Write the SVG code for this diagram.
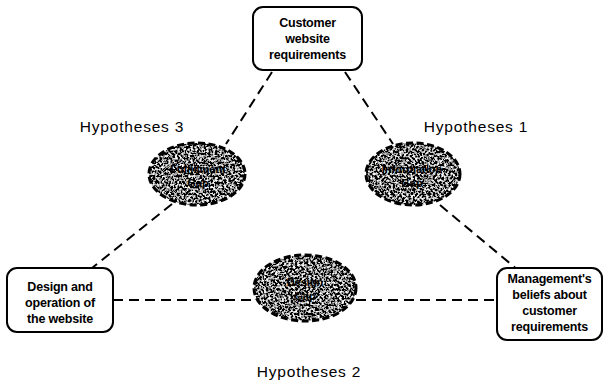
<svg xmlns="http://www.w3.org/2000/svg" width="607" height="382" viewBox="0 0 607 382">
<style>
.box{fill:#fff;stroke:#000;stroke-width:2}
.bt{font-family:"Liberation Sans",Arial,sans-serif;font-weight:bold;font-size:12.5px;fill:#000;text-anchor:middle;letter-spacing:-0.2px}
.fill{fill:#000}
.rim{fill:none;stroke:#000;stroke-width:3;stroke-dasharray:7 3.5}
.gt{font-family:"Liberation Sans",Arial,sans-serif;font-weight:bold;font-size:11px;fill:#000;text-anchor:middle}
.hl{font-family:"Liberation Sans",Arial,sans-serif;font-size:15.5px;fill:#000;text-anchor:middle;letter-spacing:0.8px}
.con{stroke:#000;stroke-width:2;stroke-dasharray:10 6;fill:none}
</style>
<defs>
<filter id="noise" x="0" y="0" width="100%" height="100%">
<feTurbulence type="fractalNoise" baseFrequency="0.45" numOctaves="3" seed="7" result="t"/>
<feColorMatrix in="t" type="matrix" values="3.6 0 0 0 -1.6  3.6 0 0 0 -1.6  3.6 0 0 0 -1.6  0 0 0 0 1" result="n"/>
<feComposite in="n" in2="SourceAlpha" operator="in"/>
</filter>
</defs>
<rect width="607" height="382" fill="#fff"/>
<g id="connectors">
<line class="con" x1="272" y1="72" x2="226" y2="144"/>
<line class="con" x1="172" y1="204" x2="92" y2="268"/>
<line class="con" x1="345" y1="72" x2="393" y2="144"/>
<line class="con" x1="440" y1="205" x2="518" y2="270"/>
<line class="con" x1="113" y1="300" x2="254" y2="300"/>
<line class="con" x1="356" y1="300" x2="497" y2="300"/>
</g>
<g id="customer">
<rect class="box" x="253" y="7" width="109" height="63" rx="10"/>
<text class="bt" x="307.5" y="27">Customer</text>
<text class="bt" x="307.5" y="43">website</text>
<text class="bt" x="307.5" y="59">requirements</text>
</g>
<g id="design-op">
<rect class="box" x="7" y="268" width="106" height="64" rx="10"/>
<text class="bt" x="60" y="291">Design and</text>
<text class="bt" x="60" y="307">operation of</text>
<text class="bt" x="60" y="323">the website</text>
</g>
<g id="management">
<rect class="box" x="497" y="268" width="105" height="72" rx="10"/>
<text class="bt" x="549.5" y="283">Management's</text>
<text class="bt" x="549.5" y="299">beliefs about</text>
<text class="bt" x="549.5" y="315">customer</text>
<text class="bt" x="549.5" y="331">requirements</text>
</g>
<g id="fulfillment-gap">
<ellipse class="fill" cx="197" cy="174" rx="48" ry="31" filter="url(#noise)"/>
<ellipse class="rim" cx="197" cy="174" rx="48" ry="31"/>
<text class="gt" x="198" y="173">Fulfillment</text>
<text class="gt" x="198" y="187">Gap</text>
</g>
<g id="information-gap">
<ellipse class="fill" cx="413" cy="174" rx="47" ry="31" filter="url(#noise)"/>
<ellipse class="rim" cx="413" cy="174" rx="47" ry="31"/>
<text class="gt" x="412" y="173">Information</text>
<text class="gt" x="412" y="187">Gap</text>
</g>
<g id="design-gap">
<ellipse class="fill" cx="305" cy="288" rx="51" ry="33" filter="url(#noise)"/>
<ellipse class="rim" cx="305" cy="288" rx="51" ry="33"/>
<text class="gt" x="305" y="286">Design</text>
<text class="gt" x="305" y="300">Gap</text>
</g>
<g id="labels">
<text class="hl" x="132" y="132">Hypotheses 3</text>
<text class="hl" x="476" y="132">Hypotheses 1</text>
<text class="hl" x="309" y="377">Hypotheses 2</text>
</g>
</svg>
